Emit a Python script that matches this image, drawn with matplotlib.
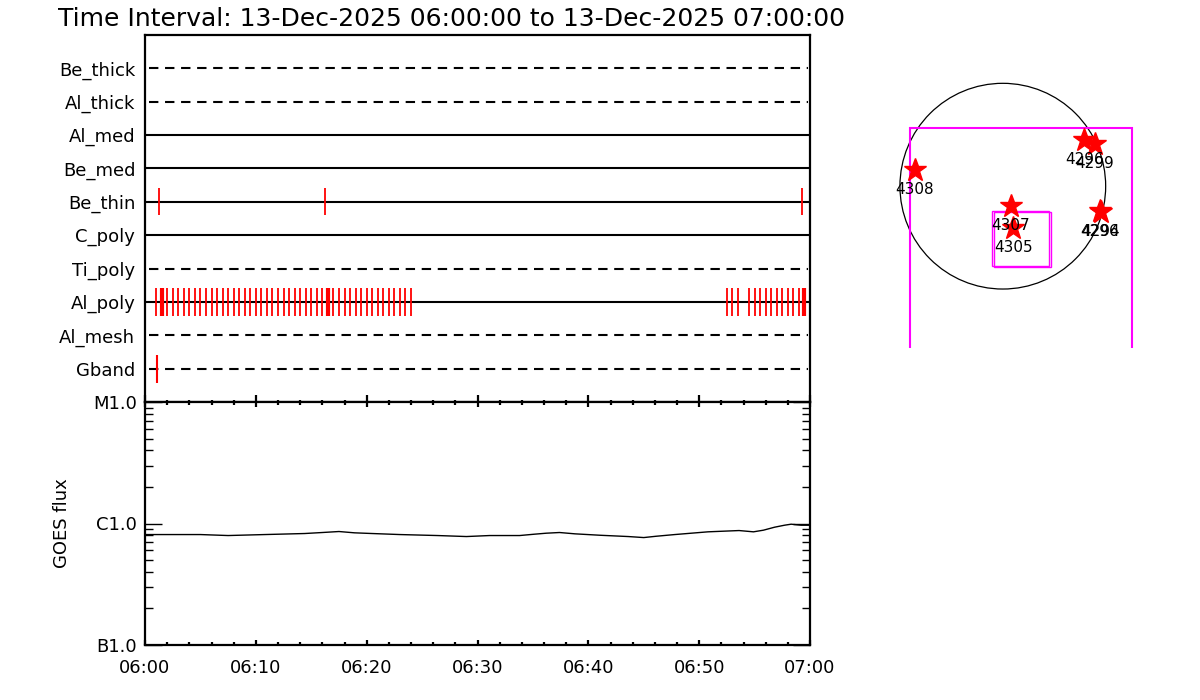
import numpy as np
import matplotlib
matplotlib.use('Agg')
import matplotlib.pyplot as plt
from matplotlib.patches import Circle, Rectangle
from matplotlib.ticker import FixedLocator, NullFormatter

# channel rows, top to bottom
channels = ['Be_thick', 'Al_thick', 'Al_med', 'Be_med', 'Be_thin',
            'C_poly', 'Ti_poly', 'Al_poly', 'Al_mesh', 'Gband']
dashed = [True, True, False, False, False, False, True, False, True, True]

# event marks in minutes after 06:00
be_thin_times = [1.24, 16.2, 59.3]
al_poly_times = [1.0, 1.5, 2.0, 2.5, 3.0, 3.5, 4.0, 4.5, 5.0, 5.5, 6.0, 6.5,
                 7.0, 7.5, 8.0, 8.5, 9.0, 9.5, 10.0, 10.5, 11.0, 11.5, 12.0,
                 12.5, 13.0, 13.5, 14.0, 14.5, 15.0, 15.5, 16.0, 16.5, 17.0,
                 17.5, 18.0, 18.5, 19.0, 19.5, 20.0, 20.5, 21.0, 21.5, 22.0,
                 22.5, 23.0, 23.5, 24.0,
                 52.5, 53.0, 53.5, 54.5, 55.0, 55.5, 56.0, 56.5, 57.0, 57.5,
                 58.0, 58.5, 59.0, 59.5]
al_poly_thick = [1.5, 16.5, 59.5]
gband_times = [1.05]

# GOES flux (W/m^2)
goes_t = [0.0, 5.0, 7.5, 10.8, 14.4, 16.0, 17.5, 18.9, 20.5, 23.0, 26.4, 29.0,
          31.1, 33.8, 35.1, 36.2, 37.4, 38.8, 41.1, 43.6, 45.0, 46.1, 47.8,
          50.8, 53.6, 54.9, 55.8, 56.8, 57.7, 58.3, 59.2, 60.0]
goes_flux = [8.11e-7, 8.11e-7, 7.96e-7, 8.11e-7, 8.27e-7, 8.43e-7, 8.59e-7,
             8.38e-7, 8.27e-7, 8.11e-7, 7.96e-7, 7.81e-7, 7.96e-7, 7.96e-7,
             8.16e-7, 8.32e-7, 8.43e-7, 8.22e-7, 8.00e-7, 7.81e-7, 7.66e-7,
             7.85e-7, 8.11e-7, 8.54e-7, 8.75e-7, 8.54e-7, 8.81e-7, 9.32e-7,
             9.68e-7, 9.87e-7, 9.68e-7, 9.68e-7]

time_ticks = [0, 10, 20, 30, 40, 50, 60]
time_labels = ['06:00', '06:10', '06:20', '06:30', '06:40', '06:50', '07:00']
flux_ticks = [1e-7, 1e-6, 1e-5]
flux_labels = ['B1.0', 'C1.0', 'M1.0']

# active regions on the disk (arcsec)
ar_nums = ['4308', '4307', '4305', '4296', '4299', '4294', '4296']
ar_x = [-832, 75, 100, 773, 874, 928, 922]
ar_y = [154, -188, -399, 438, 400, -247, -240]

fig = plt.figure(figsize=(12, 7), dpi=100)

# ---- top panel: channel timeline
ax1 = fig.add_axes([145/1200, 1-402/700, 665/1200, 367/700])
ax1.set_xlim(0, 60)
ax1.set_ylim(0, 11)
rows = np.arange(10, 0, -1)
for name, row, d in zip(channels, rows, dashed):
    if d:
        ax1.plot([0.4, 59.8], [row, row], color='black', lw=1.5,
                 dashes=(4.5, 3.2))
    else:
        ax1.plot([0, 60], [row, row], color='black', lw=1.5)

row_of = dict(zip(channels, rows))
ax1.vlines(be_thin_times, row_of['Be_thin']-0.4, row_of['Be_thin']+0.4,
           color='red', lw=1.3)
ax1.vlines(al_poly_times, row_of['Al_poly']-0.42, row_of['Al_poly']+0.42,
           color='red', lw=1.3)
ax1.vlines(al_poly_thick, row_of['Al_poly']-0.42, row_of['Al_poly']+0.42,
           color='red', lw=3)
ax1.vlines(gband_times, row_of['Gband']-0.42, row_of['Gband']+0.42,
           color='red', lw=1.5)

ax1.set_yticks(rows)
ax1.set_yticklabels(channels, fontsize=13)
ax1.tick_params(axis='y', length=0, pad=7)
ax1.set_xticks(time_ticks)
ax1.set_xticklabels([])
ax1.xaxis.set_minor_locator(FixedLocator(np.arange(0, 61, 2)))
ax1.tick_params(axis='x', which='major', direction='in', length=5, width=1.6)
ax1.tick_params(axis='x', which='minor', direction='in', length=1.5,
                width=1.6)
for s in ax1.spines.values():
    s.set_linewidth(1.6)

# ---- bottom panel: GOES
ax2 = fig.add_axes([145/1200, 1-645/700, 665/1200, 243/700])
ax2.plot(goes_t, goes_flux, color='black', lw=1)
ax2.set_yscale('log')
ax2.set_ylim(1e-7, 1e-5)
ax2.set_xlim(0, 60)
ax2.set_xticks(time_ticks)
ax2.set_xticklabels(time_labels, fontsize=13)
ax2.xaxis.set_minor_locator(FixedLocator(np.arange(0, 61, 2)))
ax2.set_yticks(flux_ticks)
ax2.set_yticklabels(flux_labels, fontsize=13)
minor_y = [m * 10.0**e for e in (-7, -6) for m in range(2, 10)]
ax2.yaxis.set_minor_locator(FixedLocator(minor_y))
ax2.yaxis.set_minor_formatter(NullFormatter())
ax2.tick_params(axis='x', which='major', direction='in', length=3.5,
                width=1.6, top=True, pad=10)
ax2.tick_params(axis='x', which='minor', direction='in', length=2.5,
                width=1.6, top=True)
ax2.tick_params(axis='y', which='major', direction='in', length=12,
                width=1, right=True, pad=6)
ax2.tick_params(axis='y', which='minor', direction='in', length=6,
                width=1, right=True)
ax2.set_ylabel('GOES flux', fontsize=13, labelpad=16)
for s in ax2.spines.values():
    s.set_linewidth(1.6)

fig.text(58/1200, 1-26/700,
         'Time Interval: 13-Dec-2025 06:00:00 to 13-Dec-2025 07:00:00',
         fontsize=18, va='baseline', ha='left')

# ---- right: solar disk map
ax3 = fig.add_axes([880/1200, 1-348/700, 280/1200, 313/700])
ax3.set_xlim(-1164, 1490)
ax3.set_ylim(-1534, 1433)
ax3.axis('off')
ax3.add_patch(Circle((0, 0), 975, fill=False, ec='black', lw=0.9))
fov = Rectangle((-880, -2500), 2102, 3055, fill=False, ec='magenta', lw=1.5)
ax3.add_patch(fov)
fov.set_clip_path(Rectangle((-1164, -1534), 2654, 2967,
                            transform=ax3.transData))
ax3.add_patch(Rectangle((-100, -757), 541, 522, fill=False, ec='magenta',
                        lw=1))
ax3.add_patch(Rectangle((-81, -769), 534, 521, fill=False, ec='magenta',
                        lw=1))
ax3.plot(ar_x, ar_y, '*', color='red', markersize=17, mec='red')
for n, x, y in zip(ar_nums, ar_x, ar_y):
    ax3.text(x, y - 185, n, fontsize=11, ha='center', va='center')

fig.savefig('out.png', dpi=100)
